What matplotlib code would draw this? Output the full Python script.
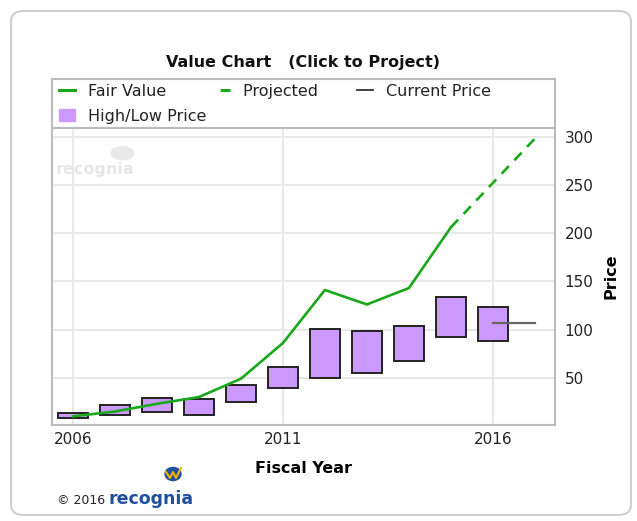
import matplotlib.pyplot as plt
from matplotlib.lines import Line2D
from matplotlib.patches import Patch, FancyBboxPatch, Circle, Rectangle

plt.rcParams['font.family'] = ['DejaVu Sans']

# data
years = [2006, 2007, 2008, 2009, 2010, 2011, 2012, 2013, 2014, 2015, 2016]
price_high = [13, 22, 29, 28, 43, 61, 101, 98, 104, 134, 123]
price_low = [8, 11, 15, 11, 25, 39, 50, 55, 67, 92, 88]

fv_years = [2006, 2007, 2008, 2009, 2010, 2011, 2012, 2013, 2014, 2015]
fair_value = [10, 15, 23, 30, 49, 86, 141, 126, 143, 206]

proj_years = [2015, 2016, 2017]
projected = [206, 252, 298]

current_years = [2016, 2017]
current_price = [107, 107]

W, H = 637, 521
fig = plt.figure(figsize=(W / 100, H / 100), dpi=100)


def fx(px):
    return px / W


def fy(py):
    return 1 - py / H


# card border
fig.patches.append(FancyBboxPatch((fx(11), fy(515)), fx(620), (504) / H,
                                  boxstyle="round,pad=0,rounding_size=0.02",
                                  transform=fig.transFigure, facecolor='none',
                                  edgecolor='#cfcfcf', linewidth=1.5, zorder=0))
# legend frame
fig.patches.append(Rectangle((fx(52), fy(128)), fx(503), 49 / H,
                             transform=fig.transFigure, facecolor='none',
                             edgecolor='#bbbbbb', linewidth=1.5))

green = '#19a819'
ax = fig.add_axes([fx(52), fy(425), fx(555 - 52), (425 - 128) / H])
ax.set_facecolor('none')

heights = [h - l for h, l in zip(price_high, price_low)]
ax.bar(years, heights, bottom=price_low, width=0.7, color='#cc99ff',
       edgecolor='#222222', linewidth=1.4, zorder=3)
ax.plot(fv_years, fair_value, color=green, linewidth=1.9, zorder=4)
ax.plot(proj_years, projected, color=green, linewidth=1.9, dashes=(4, 3), zorder=4)
ax.plot(current_years, current_price, color='#666666', linewidth=1.6, zorder=5)

ax.set_xlim(2005.5, 2017.48)
ax.set_ylim(1, 309)
ax.set_xticks([2006, 2011, 2016])
ax.set_yticks([50, 100, 150, 200, 250, 300])
ax.yaxis.tick_right()
ax.yaxis.set_label_position('right')
ax.tick_params(length=0, labelsize=11, colors='#222222')
ax.tick_params(axis='y', pad=7)
ax.tick_params(axis='x', pad=5)
ax.grid(True, color='#e8e8e8', linewidth=1.5, zorder=0)
for s in ax.spines.values():
    s.set_color('#bbbbbb')
    s.set_linewidth(1.5)

ax.set_xlabel('Fiscal Year', fontsize=11.5, fontweight='bold', labelpad=10)
ax.set_ylabel('Price', fontsize=11.5, fontweight='bold', labelpad=7)

# faint watermark
ax.text(0.008, 0.86, 'recognia', transform=ax.transAxes, fontsize=11.5,
        fontweight='bold', color='#e6e6e6', zorder=1, va='center')
ax.add_patch(Circle((0.14, 0.915), 0.022, transform=ax.transAxes,
                    color='#e8e8e8', zorder=1))

fig.text(fx(303), fy(62), 'Value Chart   (Click to Project)', ha='center',
         va='center', fontsize=11.5, fontweight='bold', color='#111111')

handles = [
    Line2D([], [], color=green, linewidth=2.2),
    Patch(facecolor='#cc99ff', edgecolor='#cc99ff'),
    Line2D([], [], color=green, linewidth=2.2, dashes=(0, 2, 3.5, 20)),
    Line2D([], [], color='#333333', linewidth=1.3),
]
labels = ['Fair Value', 'High/Low Price', 'Projected      ', 'Current Price']
leg = fig.legend(handles, labels, ncol=3, loc='upper left',
                 bbox_to_anchor=(fx(56), fy(81)),
                 fontsize=11.5, frameon=False, borderaxespad=0,
                 handlelength=1.0, handleheight=0.75, handletextpad=0.8,
                 labelspacing=0.6, borderpad=0.2, columnspacing=0.5)
for t in leg.get_texts():
    t.set_color('#222222')

# footer credit
fig.text(fx(57), fy(500), '\u00a9 2016', fontsize=9, va='center', color='#222222')
fig.text(fx(108), fy(499), 'recognia', fontsize=12.5, fontweight='bold',
         va='center', color='#1f4f9e')
fig.patches.append(Circle((fx(173), fy(474)), 8 / W, transform=fig.transFigure,
                          color='#1f4f9e'))
fig.lines.append(Line2D([fx(166), fx(170), fx(173), fx(176), fx(181)],
                        [fy(472), fy(478), fy(472), fy(478), fy(468)],
                        transform=fig.transFigure, color='#f2b200', linewidth=1.5))

fig.savefig('out.png', dpi=100)
